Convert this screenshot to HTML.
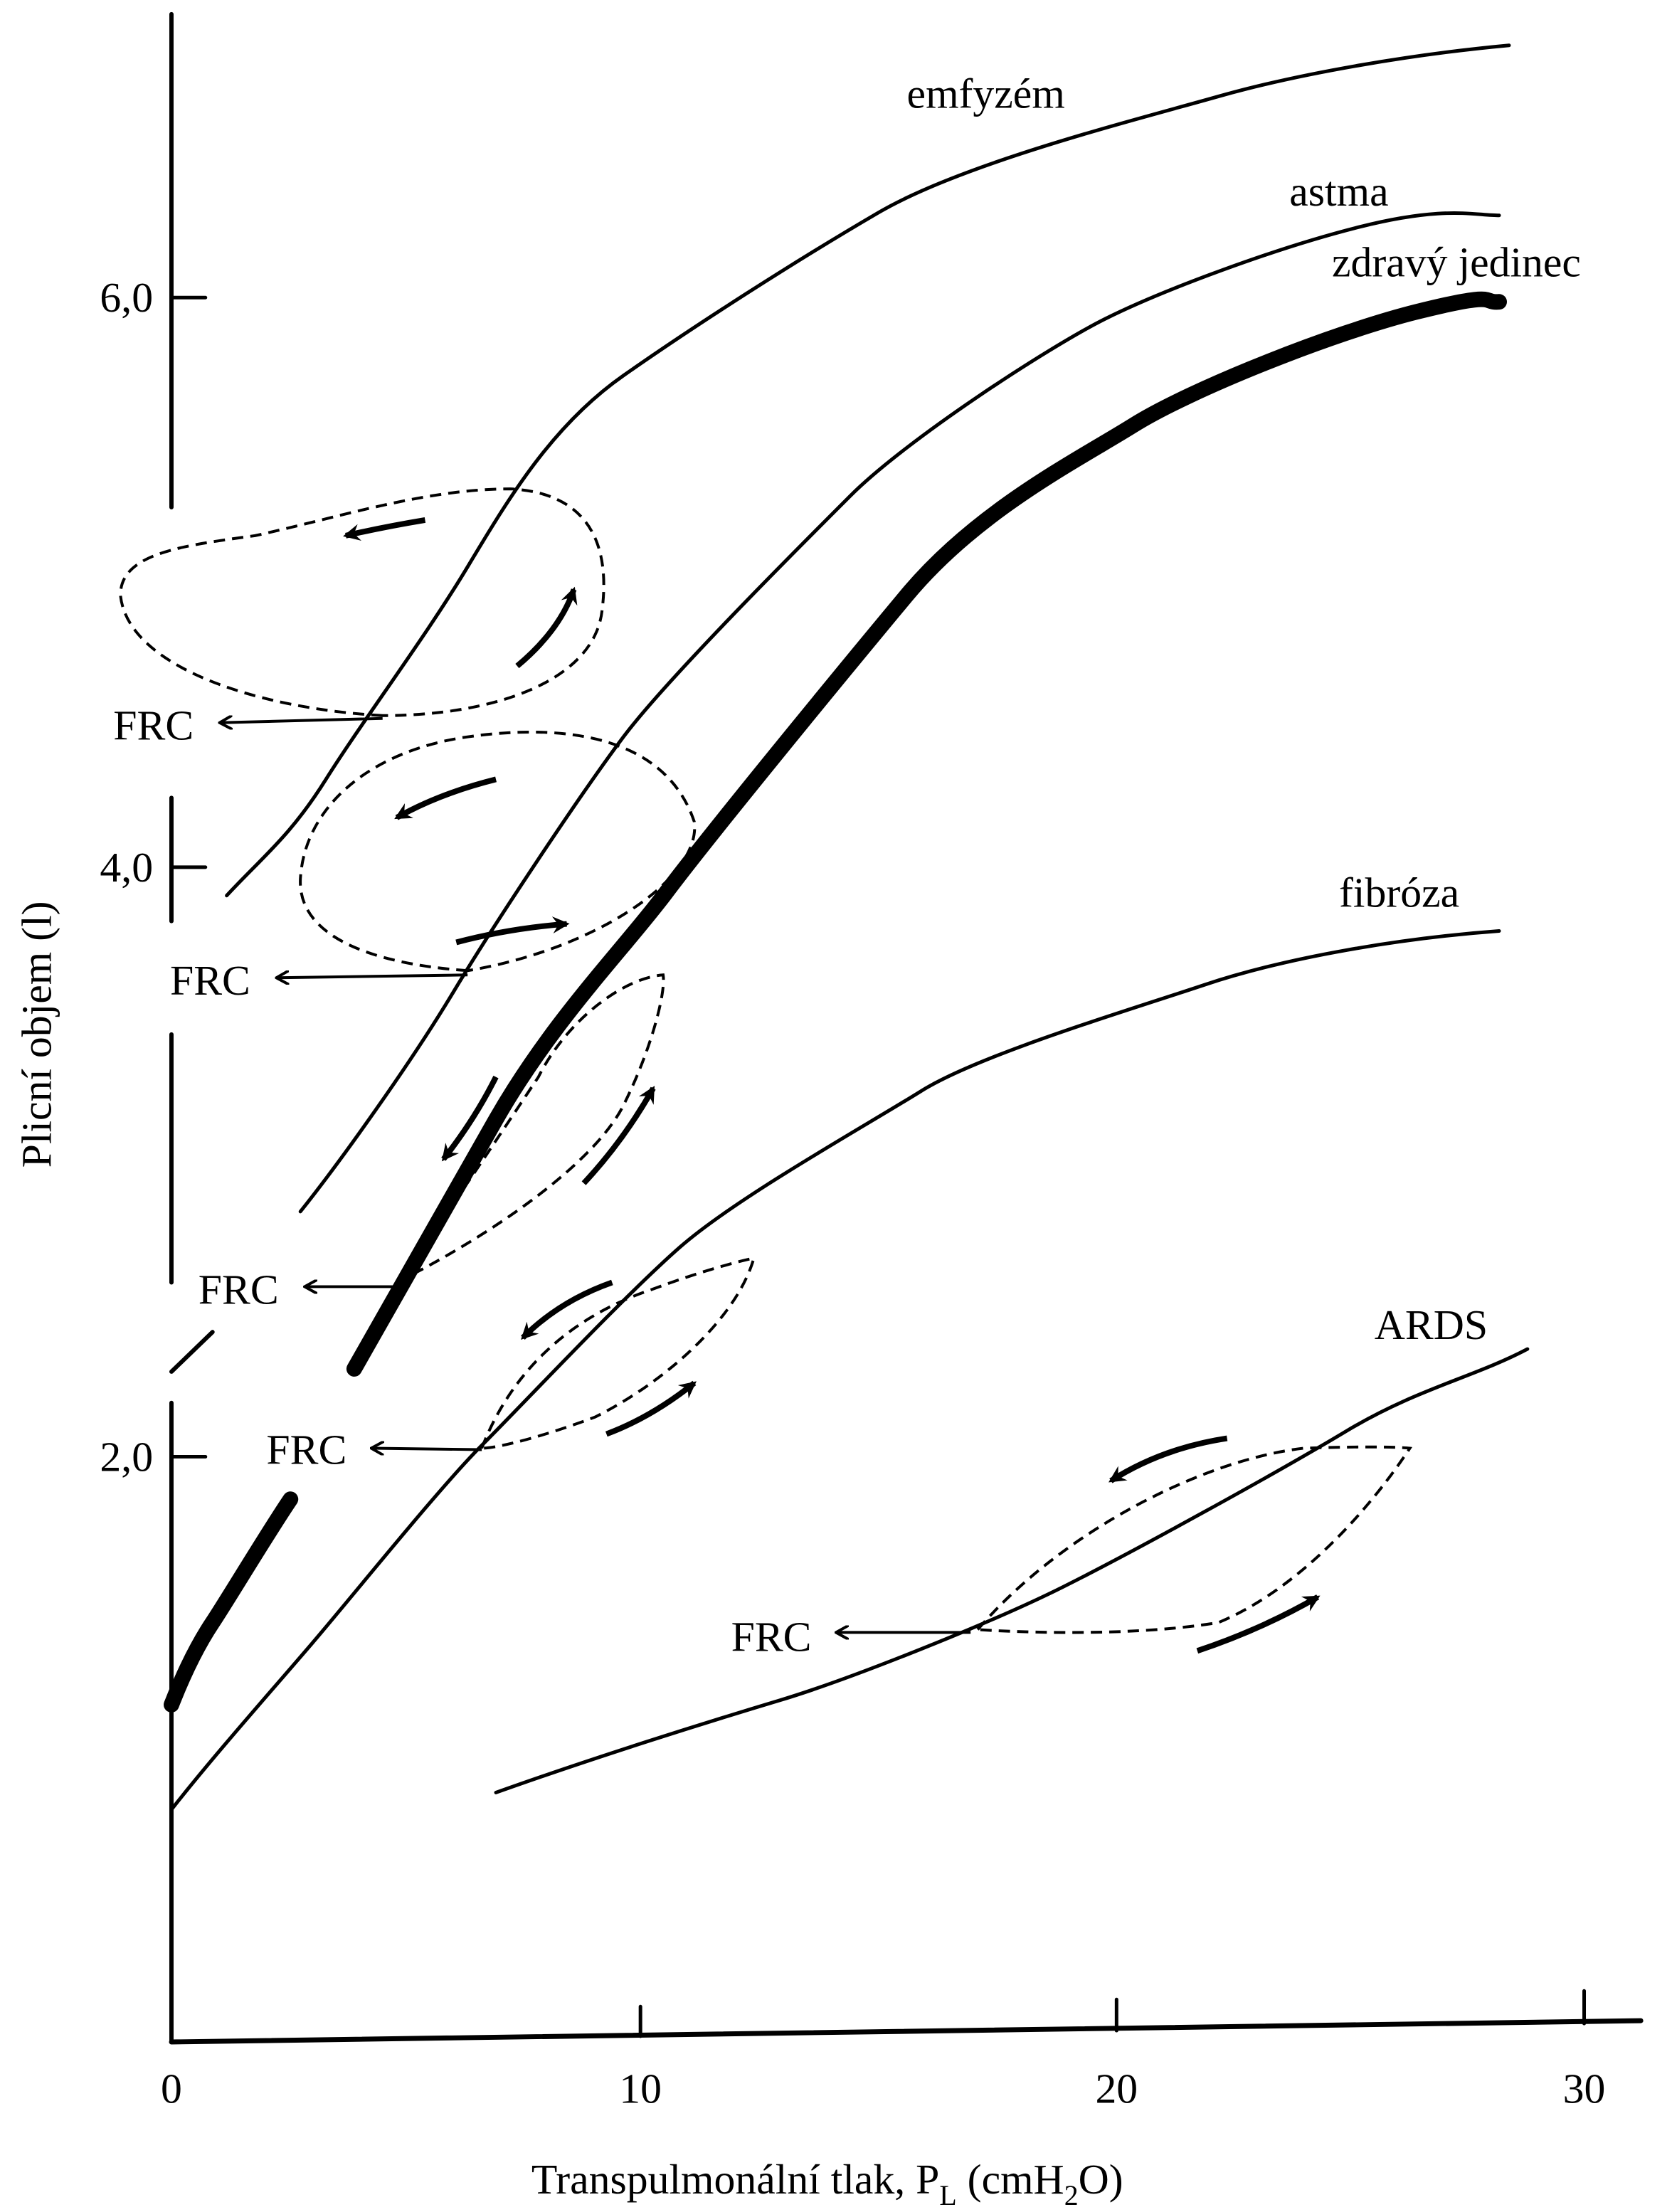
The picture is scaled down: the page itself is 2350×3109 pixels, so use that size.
<!DOCTYPE html>
<html><head><meta charset="utf-8"><style>
html,body{margin:0;padding:0;background:#fff}
svg{display:block}
text{font-family:"Liberation Serif",serif;fill:#000}
</style></head><body>
<svg width="2350" height="3109" viewBox="0 0 1180 1561" preserveAspectRatio="none">
<defs>
<marker id="ah" markerWidth="10" markerHeight="10" refX="8" refY="5" orient="auto" markerUnits="userSpaceOnUse">
<path d="M0,0 L9,5 L0,10" fill="none" stroke="#000" stroke-width="2"/>
</marker>
<marker id="ab" markerWidth="14" markerHeight="14" refX="10" refY="7" orient="auto" markerUnits="userSpaceOnUse">
<path d="M0,1 L12,7 L0,13 L4,7 Z" fill="#000"/>
</marker>
</defs>
<g stroke="#000" fill="none" stroke-linecap="round">
<path d="M121,10 V358 M121,563 V650 M121,730 V905 M121,990 V1441" stroke-width="3"/>
<path d="M121,968 L150,940" stroke-width="3"/>
<path d="M121,1441 L1158,1426" stroke-width="3.5"/>
<path d="M452,1416 V1437 M788,1411 V1433 M1118,1405 V1428" stroke-width="2.5"/>
<path d="M121,210 H145 M121,612 H145 M121,1028 H145" stroke-width="2.5"/>
<path d="M160,632 C185,605 205,590 230,550 S300,450 330,400 S390,300 440,265 S560,185 620,150 S800,85 860,68 S1000,38 1065,32" stroke-width="2.5"/>
<path d="M212,855 C240,820 290,750 320,700 S410,560 440,520 S560,390 600,350 S740,245 780,225 S900,175 960,160 S1040,152 1058,152" stroke-width="2.5"/>
<path d="M250,966 C270,930 310,860 350,790 S440,670 470,630 S590,480 640,420 S760,325 800,300 S940,235 1000,220 S1045,214 1058,213" stroke-width="11"/>
<path d="M121,1203 C130,1180 140,1160 150,1145 S190,1080 205,1058" stroke-width="11"/>
<path d="M121,1277 C150,1240 190,1195 220,1160 S310,1050 340,1020 S440,915 480,880 S610,795 650,770 S790,715 850,695 S990,662 1058,657" stroke-width="2.5"/>
<path d="M350,1265 C420,1240 500,1215 550,1200 S700,1145 750,1120 S900,1040 950,1010 S1040,972 1078,952" stroke-width="2.5"/>
</g>
<g stroke="#000" fill="none" stroke-width="2" stroke-dasharray="8,5">
<path d="M270,505 C180,500 90,470 85,420 C85,390 130,385 180,378 C240,365 300,345 360,345 C420,348 430,390 425,430 C420,480 350,505 270,505 Z"/>
<path d="M330,685 C260,680 210,660 212,620 C215,570 260,530 330,520 C400,510 470,520 490,580 C495,620 420,670 330,685 Z"/>
<path d="M280,905 C350,870 420,820 440,780 C460,740 470,700 468,688 C440,690 400,720 380,760 C340,820 300,880 280,905"/>
<path d="M340,1022 C360,970 400,930 460,910 C500,895 530,888 532,888 C520,930 470,975 420,1000 C380,1015 350,1022 340,1022 Z"/>
<path d="M690,1150 C750,1080 850,1030 920,1022 C980,1020 995,1022 995,1022 C970,1060 920,1120 860,1145 C800,1155 720,1152 690,1150"/>
</g>
<g stroke="#000" fill="none" stroke-width="4" marker-end="url(#ab)">
<path d="M300,367 Q270,372 244,378"/>
<path d="M365,470 Q395,445 405,416"/>
<path d="M350,550 Q310,560 280,577"/>
<path d="M322,665 Q360,655 400,652"/>
<path d="M350,760 Q335,790 313,818"/>
<path d="M412,835 Q440,805 461,768"/>
<path d="M432,905 Q395,918 369,944"/>
<path d="M428,1012 Q460,1000 490,976"/>
<path d="M866,1015 Q820,1022 784,1045"/>
<path d="M845,1165 Q890,1150 930,1127"/>
</g>
<g stroke="#000" fill="none" stroke-width="2" marker-end="url(#ah)">
<path d="M270,507 L156,510"/>
<path d="M330,688 L196,690"/>
<path d="M283,908 L216,908"/>
<path d="M340,1023 L263,1022"/>
<path d="M685,1152 L591,1152"/>
</g>
<g font-size="30">
<text x="80" y="522">FRC</text>
<text x="120" y="702">FRC</text>
<text x="140" y="920">FRC</text>
<text x="188" y="1033">FRC</text>
<text x="516" y="1165">FRC</text>
<text x="640" y="76">emfyzém</text>
<text x="910" y="145">astma</text>
<text x="940" y="195">zdravý jedinec</text>
<text x="945" y="640">fibróza</text>
<text x="970" y="945">ARDS</text>
<text x="108" y="220" text-anchor="end">6,0</text>
<text x="108" y="622" text-anchor="end">4,0</text>
<text x="108" y="1038" text-anchor="end">2,0</text>
<text x="121" y="1484" text-anchor="middle">0</text>
<text x="452" y="1484" text-anchor="middle">10</text>
<text x="788" y="1484" text-anchor="middle">20</text>
<text x="1118" y="1484" text-anchor="middle">30</text>
<text x="375" y="1548">Transpulmonální  tlak, P<tspan font-size="20" dy="8">L</tspan><tspan dy="-8">  (cmH</tspan><tspan font-size="20" dy="8">2</tspan><tspan dy="-8">O)</tspan></text>
<text transform="translate(36,730) rotate(-90)" text-anchor="middle">Plicní objem (l)</text>
</g>
</svg>
</body></html>
